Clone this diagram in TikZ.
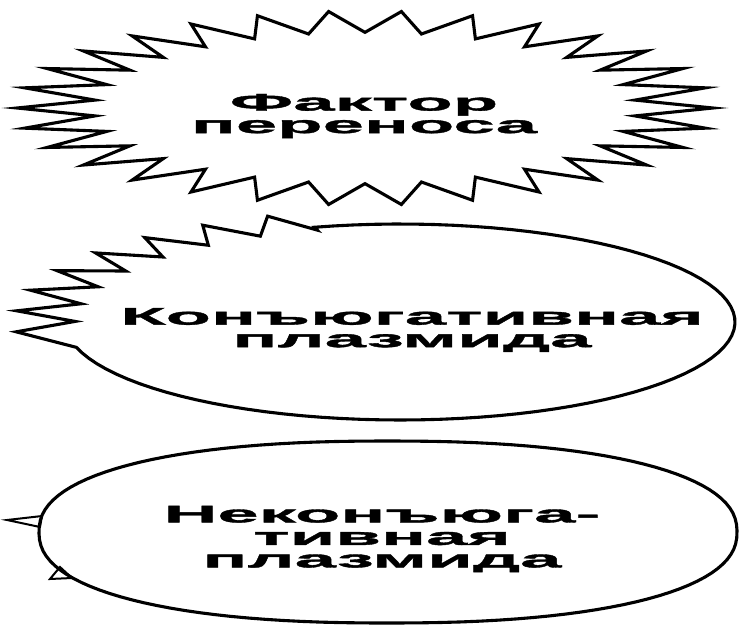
\documentclass[tikz,border=0pt]{standalone}
\usepackage{fontspec}
\newfontfamily\plasmidfont[FakeStretch=3.1,FakeBold=1.6]{Liberation Sans Bold}

\begin{document}
\begin{tikzpicture}[
  x=1pt, y=-1pt,
  declare function={sx(\t)=sign(cos(\t))*abs(cos(\t))^0.87;
                    sy(\t)=sign(sin(\t))*abs(sin(\t))^0.87;},
  plasmidtext/.style={align=center, inner sep=0pt,
    font=\plasmidfont\fontsize{24}{22.5}\selectfont},
  rim/.style={line width=3.1pt, line join=miter},
  notch/.style={line width=2pt, line join=miter},
]
\useasboundingbox (0,0) rectangle (739,627);

% TOP: transfer factor (starburst)
\node[plasmidtext] (factor) at (364,116) {Фактор\\переноса};
\draw[rim] plot[samples=60, domain=0:59]
  ({365+348*(0.89+0.11*cos(180*\x))*cos(6*\x)},
   {108-97*(0.89+0.11*cos(180*\x))*sin(6*\x)}) -- cycle;

% MIDDLE: conjugative plasmid (zigzag on the upper left)
\node[plasmidtext] (conj) at (412,330) {Конъюгативная\\плазмида};
\draw[rim] plot[samples=16, domain=0:15]
  ({400+335*(1.06+0.09*cos(180*\x))*cos(185-5.35*\x)},
   {322-98*(1.06+0.09*cos(180*\x))*sin(185-5.35*\x)})
  -- plot[samples=80, domain=104.75:-165]
  ({400+335*cos(\x)}, {322-98*sin(\x)}) -- cycle;

% BOTTOM: non-conjugative plasmid
\node[plasmidtext] (nonconj) at (382,539) {Неконъюга-\\тивная\\плазмида};
\draw[rim] plot[samples=121, domain=0.5:360.5]
  ({388+349*sx(\x)}, {532-91*sy(\x)}) -- cycle;
\draw[notch] (7,520) -- (42,516) -- (40,527) -- cycle;
\draw[notch] (50,579) -- (60,567) -- (72,578) -- cycle;
\end{tikzpicture}
\end{document}
